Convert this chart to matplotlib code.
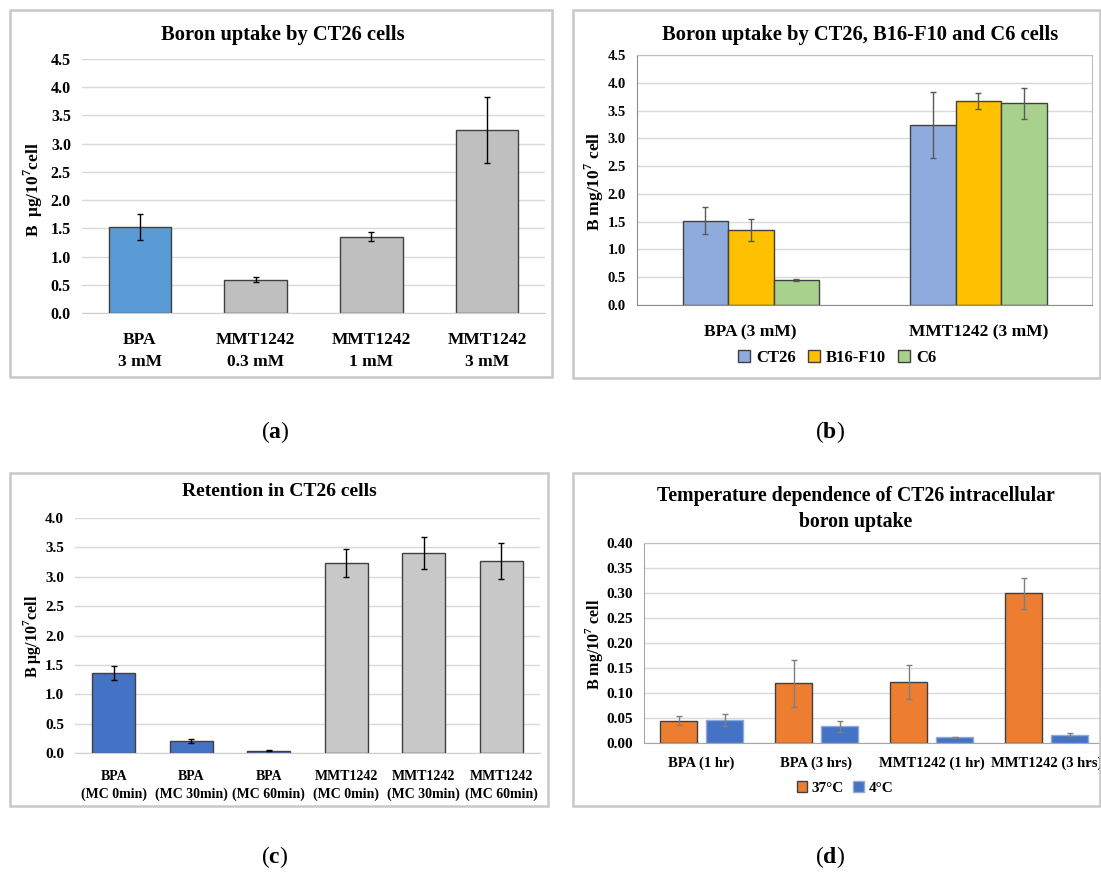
import matplotlib
matplotlib.use("Agg")
import matplotlib.pyplot as plt
from matplotlib.patches import Rectangle
import numpy as np

plt.rcParams['font.family'] = ['Liberation Serif', 'DejaVu Serif']
plt.rcParams['font.weight'] = 'bold'
plt.rcParams['mathtext.fontset'] = 'custom'
plt.rcParams['mathtext.rm'] = 'Liberation Serif'
plt.rcParams['mathtext.bf'] = 'Liberation Serif:bold'

# (a) boron uptake by CT26
a_labels = ["BPA\n3 mM", "MMT1242\n0.3 mM", "MMT1242\n1 mM", "MMT1242\n3 mM"]
a_vals = [1.52, 0.59, 1.35, 3.24]
a_err = [0.23, 0.04, 0.08, 0.58]

# (b) three cell lines
b_labels = ["BPA (3 mM)", "MMT1242 (3 mM)"]
b_ct26 = [1.52, 3.24]
b_ct26_err = [0.24, 0.59]
b_b16 = [1.35, 3.67]
b_b16_err = [0.19, 0.15]
b_c6 = [0.45, 3.63]
b_c6_err = [0.01, 0.28]

# (c) retention
c_labels = ["BPA\n(MC 0min)", "BPA\n(MC 30min)", "BPA\n(MC 60min)",
            "MMT1242\n(MC 0min)", "MMT1242\n(MC 30min)", "MMT1242\n(MC 60min)"]
c_vals = [1.36, 0.20, 0.04, 3.23, 3.40, 3.27]
c_err = [0.12, 0.03, 0.01, 0.24, 0.27, 0.30]

# (d) temperature dependence
d_labels = ["BPA (1 hr)", "BPA (3 hrs)", "MMT1242 (1 hr)", "MMT1242 (3 hrs)"]
d_37 = [0.045, 0.120, 0.122, 0.300]
d_37_err = [0.009, 0.047, 0.034, 0.031]
d_4 = [0.047, 0.034, 0.012, 0.017]
d_4_err = [0.012, 0.011, 0.001, 0.003]

W, H = 1101, 872
fig = plt.figure(figsize=(W/100, H/100), dpi=100)

def add_ax(l, t, r, b):
    return fig.add_axes([l/W, 1-b/H, (r-l)/W, (b-t)/H])

def box(l, t, r, b):
    fig.patches.append(Rectangle((l/W, 1-b/H), (r-l)/W, (b-t)/H, transform=fig.transFigure,
                                 fill=False, edgecolor='#C8C8C8', lw=1.8))

def ftext(x, y, s, **kw):
    fig.text(x/W, 1-y/H, s, ha='center', va='center', **kw)

def style(ax, ymax, step, fmt, ysize, frame=False):
    ax.set_ylim(0, ymax)
    ax.set_yticks(np.arange(0, ymax + step/2, step))
    ax.yaxis.set_major_formatter(matplotlib.ticker.FormatStrFormatter(fmt))
    ax.grid(axis='y', color='#D9D9D9', lw=1)
    ax.set_axisbelow(True)
    ax.tick_params(length=0)
    ax.tick_params(axis='y', pad=8, labelsize=ysize)
    for s in ['top', 'right', 'left']:
        ax.spines[s].set_visible(frame)
        ax.spines[s].set_color('#BFBFBF')
    ax.spines['bottom'].set_color('#A6A6A6' if frame else '#D0D0D0')
    if frame:
        ax.spines['left'].set_color('#8C8C8C')
        ax.spines['bottom'].set_color('#8C8C8C')

for bx in [(10, 10, 552, 377), (573, 10, 1100, 378), (10, 473, 548, 806), (573, 473, 1100, 806)]:
    box(*bx)

# ---- panel a
ax = add_ax(82, 59, 545, 313)
x = np.arange(len(a_vals))
ax.bar(x, a_vals, 0.54, color=['#5B9BD5'] + ['#BFBFBF']*3, edgecolor='#404040', lw=1,
       yerr=a_err, error_kw=dict(ecolor='black', capsize=2.5, elinewidth=1))
ax.set_xlim(-0.5, 3.5)
style(ax, 4.5, 0.5, '%.1f', 11.5)
ax.set_xticks(x)
ax.set_xticklabels(a_labels, fontsize=12.5, linespacing=1.5)
ax.tick_params(axis='x', pad=14)
ftext(283, 35, "Boron uptake by CT26 cells", fontsize=14.8)
fig.text(33/W, 1-190/H, r"B  μg/10$^{\mathbf{7}}$cell", rotation=90, ha='center', va='center', fontsize=12.5)

# ---- panel b
ax = add_ax(637, 55, 1092, 305)
x = np.arange(len(b_labels))
ek = dict(ecolor='#595959', capsize=2, elinewidth=1)
ax.bar(x - 0.2, b_ct26, 0.2, color='#8FAADC', edgecolor='#404040', lw=1, yerr=b_ct26_err, error_kw=ek, label='CT26')
ax.bar(x, b_b16, 0.2, color='#FFC000', edgecolor='#404040', lw=1, yerr=b_b16_err, error_kw=ek, label='B16-F10')
ax.bar(x + 0.2, b_c6, 0.2, color='#A9D18E', edgecolor='#404040', lw=1, yerr=b_c6_err, error_kw=ek, label='C6')
ax.set_xlim(-0.5, 1.5)
style(ax, 4.5, 0.5, '%.1f', 10.5, frame=True)
ax.set_xticks(x)
ax.set_xticklabels(b_labels, fontsize=12.5)
ax.tick_params(axis='x', pad=14)
ax.legend(loc='center', bbox_to_anchor=((837-637)/455, -(358-305)/250), ncol=3, frameon=False,
          fontsize=12, handlelength=0.75, handleheight=0.75, handletextpad=0.35, columnspacing=0.7)
ftext(860, 35, "Boron uptake by CT26, B16-F10 and C6 cells", fontsize=14.8)
fig.text(594/W, 1-181/H, r"B mg/10$^{\mathbf{7}}$ cell", rotation=90, ha='center', va='center', fontsize=12.5)

# ---- panel c
ax = add_ax(75, 518, 540, 753)
x = np.arange(len(c_vals))
ax.bar(x, c_vals, 0.56, color=['#4472C4']*3 + ['#C8C8C8']*3, edgecolor='#404040', lw=1,
       yerr=c_err, error_kw=dict(ecolor='black', capsize=2.5, elinewidth=1))
ax.set_xlim(-0.5, 5.5)
style(ax, 4.0, 0.5, '%.1f', 11)
ax.set_xticks(x)
ax.set_xticklabels(c_labels, fontsize=10, linespacing=1.5)
ax.tick_params(axis='x', pad=12)
ftext(279, 492, "Retention in CT26 cells", fontsize=14)
fig.text(32/W, 1-636/H, r"B μg/10$^{\mathbf{7}}$cell", rotation=90, ha='center', va='center', fontsize=11.5)

# ---- panel d
ax = add_ax(644, 543, 1104, 743)
x = np.arange(len(d_labels))
ek = dict(ecolor='#7F7F7F', capsize=2, elinewidth=1)
ax.bar(x - 0.2, d_37, 0.33, color='#ED7D31', edgecolor='#404040', lw=1, yerr=d_37_err, error_kw=ek, label='37°C')
ax.bar(x + 0.2, d_4, 0.33, color='#4472C4', edgecolor='#8FAADC', lw=1, yerr=d_4_err, error_kw=ek, label='4°C')
ax.set_xlim(-0.5, 3.5)
style(ax, 0.40, 0.05, '%.2f', 11, frame=True)
ax.spines['left'].set_color('#A6A6A6')
ax.spines['bottom'].set_color('#A6A6A6')
ax.set_xticks(x)
ax.set_xticklabels(d_labels, fontsize=10.5)
ax.tick_params(axis='x', pad=10)
ax.legend(loc='center', bbox_to_anchor=((845-644)/460, -(788-743)/200), ncol=2, frameon=False,
          fontsize=11, handlelength=0.7, handleheight=0.7, handletextpad=0.3, columnspacing=0.6)
ftext(856, 496, "Temperature dependence of CT26 intracellular", fontsize=14.2)
ftext(856, 522, "boron uptake", fontsize=14.2)
fig.text(594/W, 1-644/H, r"B mg/10$^{\mathbf{7}}$ cell", rotation=90, ha='center', va='center', fontsize=11.5)

# captions
for cx, cy, letter in [(275, 432, 'a'), (830, 432, 'b'), (275, 857, 'c'), (830, 857, 'd')]:
    ftext(cx, cy, r"($\mathbf{%s}$)" % letter, fontsize=17, fontweight='normal')

fig.savefig("out.png", dpi=100)
